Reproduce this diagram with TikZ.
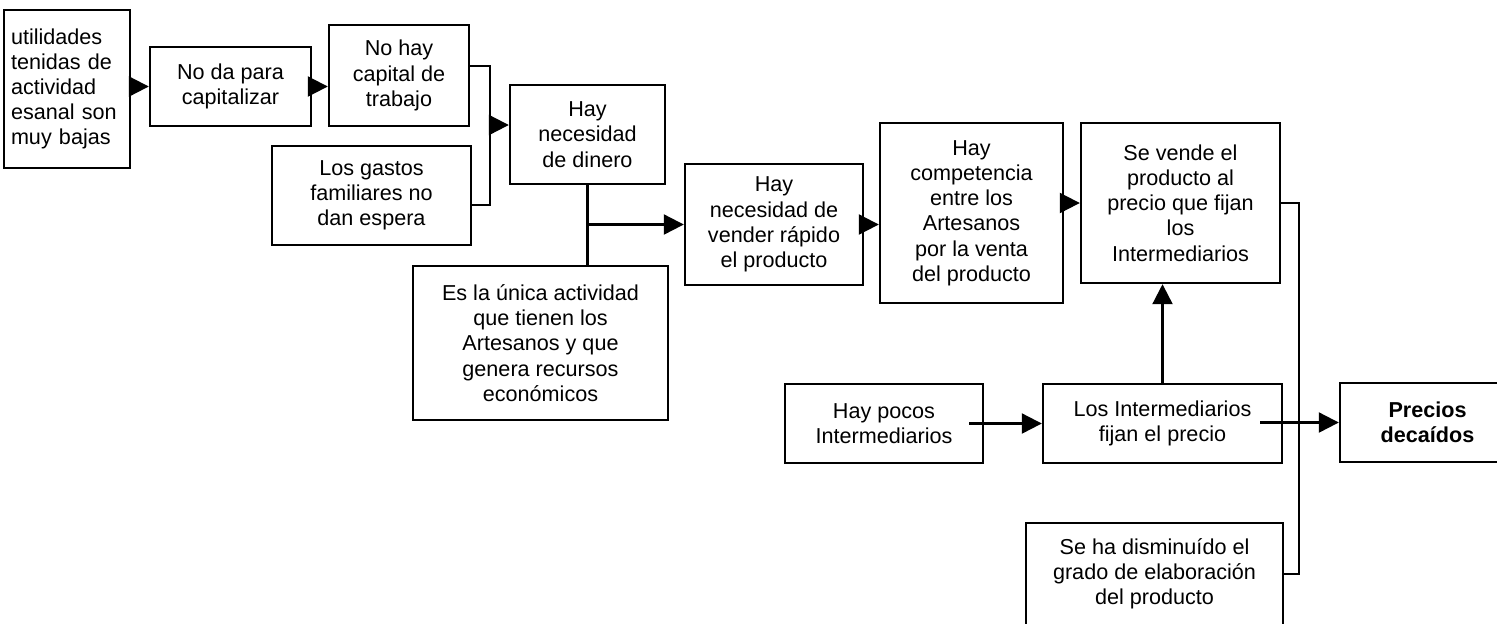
\documentclass[tikz,border=0pt]{standalone}
\usepackage{fontspec}
\setmainfont{Liberation Sans}
\usetikzlibrary{arrows.meta,calc}
\begin{document}
\begin{tikzpicture}[x=0.5pt,y=-0.5pt,
  box/.style={draw, line width=1.2pt, align=center, inner sep=0pt, font=\fontsize{10.8}{12.6}\selectfont},
  sz/.style 2 args={minimum width=#1*0.5pt, minimum height=#2*0.5pt},
  conn/.style={line width=1.1pt},
  arr/.style={conn, -{Triangle[length=10pt,width=10pt]}}]
\useasboundingbox (0,0) rectangle (1497,623);
\clip (0,0) rectangle (1497,623);
% boxes
\node[box, sz={126}{158}, text width=56pt, align=left, inner xsep=0pt] (A) at (67,89) {utilidades\\tenidas de\\actividad\\esanal son\\muy bajas};
\node[box, sz={161}{79}]  (B) at (230.5,86.5) {No da para\\capitalizar};
\node[box, sz={140}{101}] (C) at (399,75.5) {No hay\\capital de\\trabajo};
\node[box, sz={199}{99}]  (D) at (371.5,195.5) {Los gastos\\familiares no\\dan espera};
\node[box, sz={155}{99}]  (E) at (587.5,134.5) {Hay\\necesidad\\de dinero};
\node[box, sz={255}{154}] (F) at (540.5,343) {Es la única actividad\\que tienen los\\Artesanos y que\\genera recursos\\económicos};
\node[box, sz={178}{121}] (G) at (774,224.5) {Hay\\necesidad de\\vender rápido\\el producto};
\node[box, sz={183}{180}] (H) at (971.5,213) {Hay\\competencia\\entre los\\Artesanos\\por la venta\\del producto};
\node[box, sz={199}{160}] (I) at (1180.5,203) {Se vende el\\producto al\\precio que fijan\\los\\Intermediarios};
\node[box, sz={198}{79}]  (P) at (884,423.5) {Hay pocos\\Intermediarios};
\node[box, sz={239}{79}]  (J) at (1162.5,423.5) {Los Intermediarios\\fijan el precio};
\node[box, sz={175}{79}, font=\fontsize{10.8}{12.6}\selectfont\bfseries] (Q) at (1427.5,422.5) {Precios\\decaídos};
\node[box, sz={257}{102}] (K) at (1154.5,574) {Se ha disminuído el\\grado de elaboración\\del producto};
% connectors
\draw[arr] (A.east |- B.west) -- (B.west);
\draw[arr] (B.east) -- (B.east -| C.west);
\coordinate (j1) at (490,66);
\coordinate (j2) at (490,205);
\coordinate (j3) at (490,125);
\draw[conn] (C.east |- j1) -- (j1) -- (j2) -- (D.east |- j2);
\draw[arr] (j3) -- (E.west |- j3);
\draw[conn] (E.south) -- (E.south |- F.north);
\draw[arr] (E.south |- G.west) -- (G.west);
\draw[arr] (G.east) -- (G.east -| H.west);
\draw[arr] (H.east |- I.west) -- (I.west);
\coordinate (r1) at (1299,0);
\draw[conn] (I.east) -- (I.east -| r1) -- (K.east -| r1) -- (K.east);
\draw[arr] ($(P.east)+(-15,0)$) -- (J.west);
\draw[arr] (J.north) -- (J.north |- I.south);
\draw[arr] ($(J.east |- Q.west)+(-23,0)$) -- (Q.west);
\end{tikzpicture}
\end{document}
